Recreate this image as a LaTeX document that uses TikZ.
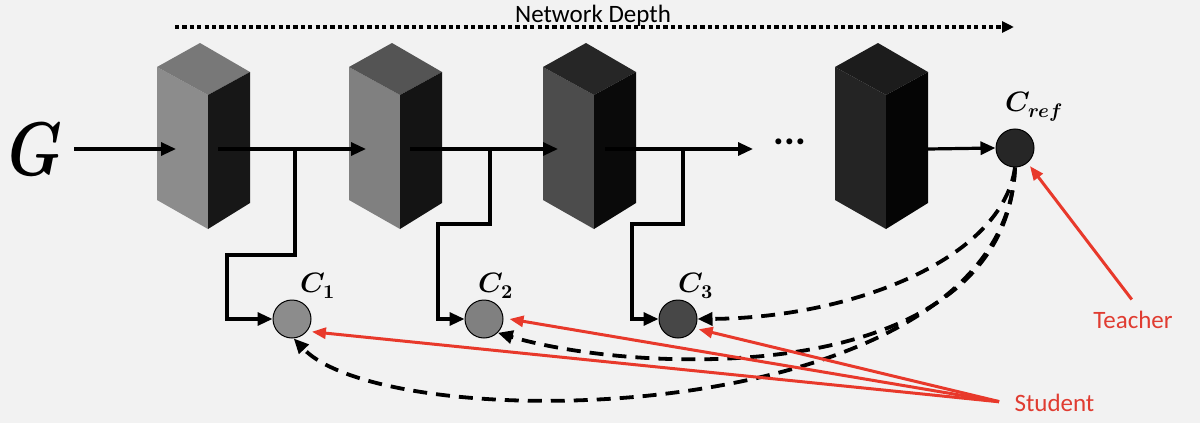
\documentclass[tikz,border=0pt]{standalone}
\usepackage{fontspec}
\usepackage{unicode-math}
\setmainfont{Carlito}
\setmathfont{Latin Modern Math}
\usepackage{graphicx}
\usetikzlibrary{arrows.meta}
\definecolor{bg}{HTML}{F2F2F2}
\definecolor{redc}{HTML}{E8392B}
\definecolor{redt}{HTML}{E03C31}
\newcommand\drawprism[4]{% x0, front, top, side
  \fill[#2] (#1,67) -- (#1+51,95) -- (#1+51,229) -- (#1,200) -- cycle;
  \fill[#3] (#1,67) -- (#1+43,43) -- (#1+93,72) -- (#1+51,95) -- cycle;
  \fill[#4] (#1+51,95) -- (#1+93,72) -- (#1+93,203) -- (#1+51,229) -- cycle;
}
\begin{document}
\begin{tikzpicture}[x=1pt,y=-1pt,
  mainline/.style={line width=3.2pt,-{Triangle[length=15pt,width=13pt]}},
  branch/.style={line width=3.2pt,-{Triangle[length=15pt,width=13pt]}},
  redarrow/.style={redc,line width=3pt,-{Triangle[length=14pt,width=11pt]},shorten <=2pt},
  dasharrow/.style={line width=3.8pt,dash pattern=on 14pt off 9pt,-{Triangle[length=15pt,width=13pt]}},
  cnode/.style={circle,draw=black,line width=1pt,minimum size=38pt,inner sep=0pt},
  clabel/.style={anchor=base west,inner sep=0pt,font=\fontsize{28}{28}\selectfont},
  txt/.style={font=\fontsize{25}{25}\selectfont}]
\fill[bg] (0,0) rectangle (1200,423);
\useasboundingbox (0,0) rectangle (1200,423);

% prisms
\drawprism{157}{{fill=black!45}}{{fill=black!53}}{{fill=black!91}}
\drawprism{349}{{fill=black!50}}{{fill=black!67}}{{fill=black!92}}
\drawprism{543}{{fill=black!70}}{{fill=black!85}}{{fill=black!96}}
\drawprism{835}{{fill=black!86}}{{fill=black!89}}{{fill=black!98}}

% coordinates
\coordinate (b1in) at (176,149);
\coordinate (b1out) at (218,149);
\coordinate (b2in) at (366,149);
\coordinate (b2out) at (410,149);
\coordinate (b3in) at (558,149);
\coordinate (b3out) at (605,149);
\coordinate (dotsin) at (753,149);
\coordinate (b4out) at (928,149);
\coordinate (br1) at (295,149);
\coordinate (k1) at (227,255);
\coordinate (br2) at (490,149);
\coordinate (k2) at (438,224);
\coordinate (br3) at (683,149);
\coordinate (k3) at (632,224);

% network depth
\node[txt,anchor=base] (nd) at (593,22) {Network Depth};
\coordinate (ndl) at (175,27);
\coordinate (ndr) at (1014,27);
\draw[line width=4.2pt,dash pattern=on 4.2pt off 3.2pt,-{Triangle[length=12pt,width=11pt]}] (ndl) -- (ndr);

% G
\node[anchor=base west,inner sep=0pt,font=\fontsize{76}{76}\selectfont] (G) at (8,175) {\scalebox{0.8}[1]{$\symbfit{G}$}};

% circles
\node[cnode,fill=black!45] (c1) at (292,319) {};
\node[cnode,fill=black!50] (c2) at (484,319) {};
\node[cnode,fill=black!72] (c3) at (678,319) {};
\node[cnode,fill=black!85] (cref) at (1015,148) {};

\node[clabel] (l1) at (300,292) {$\symbfit{C}_{\symbf{1}}$};
\node[clabel] (l2) at (478,292) {$\symbfit{C}_{\symbf{2}}$};
\node[clabel] (l3) at (678,292) {$\symbfit{C}_{\symbf{3}}$};
\node[clabel] (lref) at (1005,111) {$\symbfit{C}_{\symbfit{ref}}$};

% dots
\node[font=\fontsize{40}{40}\bfseries,inner sep=0pt] (dots) at (790,142) {...};

% main arrows
\draw[mainline] (G.east|-b1in) ++(12,0) -- (b1in);
\draw[mainline] (b1out) -- (b2in);
\draw[mainline] (b2out) -- (b3in);
\draw[mainline] (b3out) -- (dotsin);
\draw[mainline] (b4out) -- (cref.west);

% branches
\draw[branch] (br1) |- (k1) |- (c1.west);
\draw[branch] (br2) |- (k2) |- (c2.west);
\draw[branch] (br3) |- (k3) |- (c3.west);

% dashed teacher arrows
\draw[dasharrow] (cref.south) .. controls (1002,260) and (850,318) .. (c3.east);
\draw[dasharrow] (cref.south) .. controls (1005,390) and (640,375) .. (c2.-45);
\draw[dasharrow] (cref.south) .. controls (1005,430) and (390,440) .. (c1.-85);

% teacher / student
\node[txt,text=redt,anchor=base] (teach) at (1133,328) {Teacher};
\node[txt,text=redt,anchor=base west] (stud) at (1011,411) {Student};
\draw[redarrow,shorten >=4pt] (teach.north) ++(0,-6) -- (cref.-50);
\coordinate (sfrom) at (1001,402);
\draw[redarrow] (sfrom) -- ([shift={(3pt,-3pt)}]c1.-30);
\draw[redarrow] (sfrom) -- ([shift={(6pt,0pt)}]c2.east);
\draw[redarrow] (sfrom) -- ([shift={(3pt,-2pt)}]c3.-25);
\end{tikzpicture}
\end{document}
